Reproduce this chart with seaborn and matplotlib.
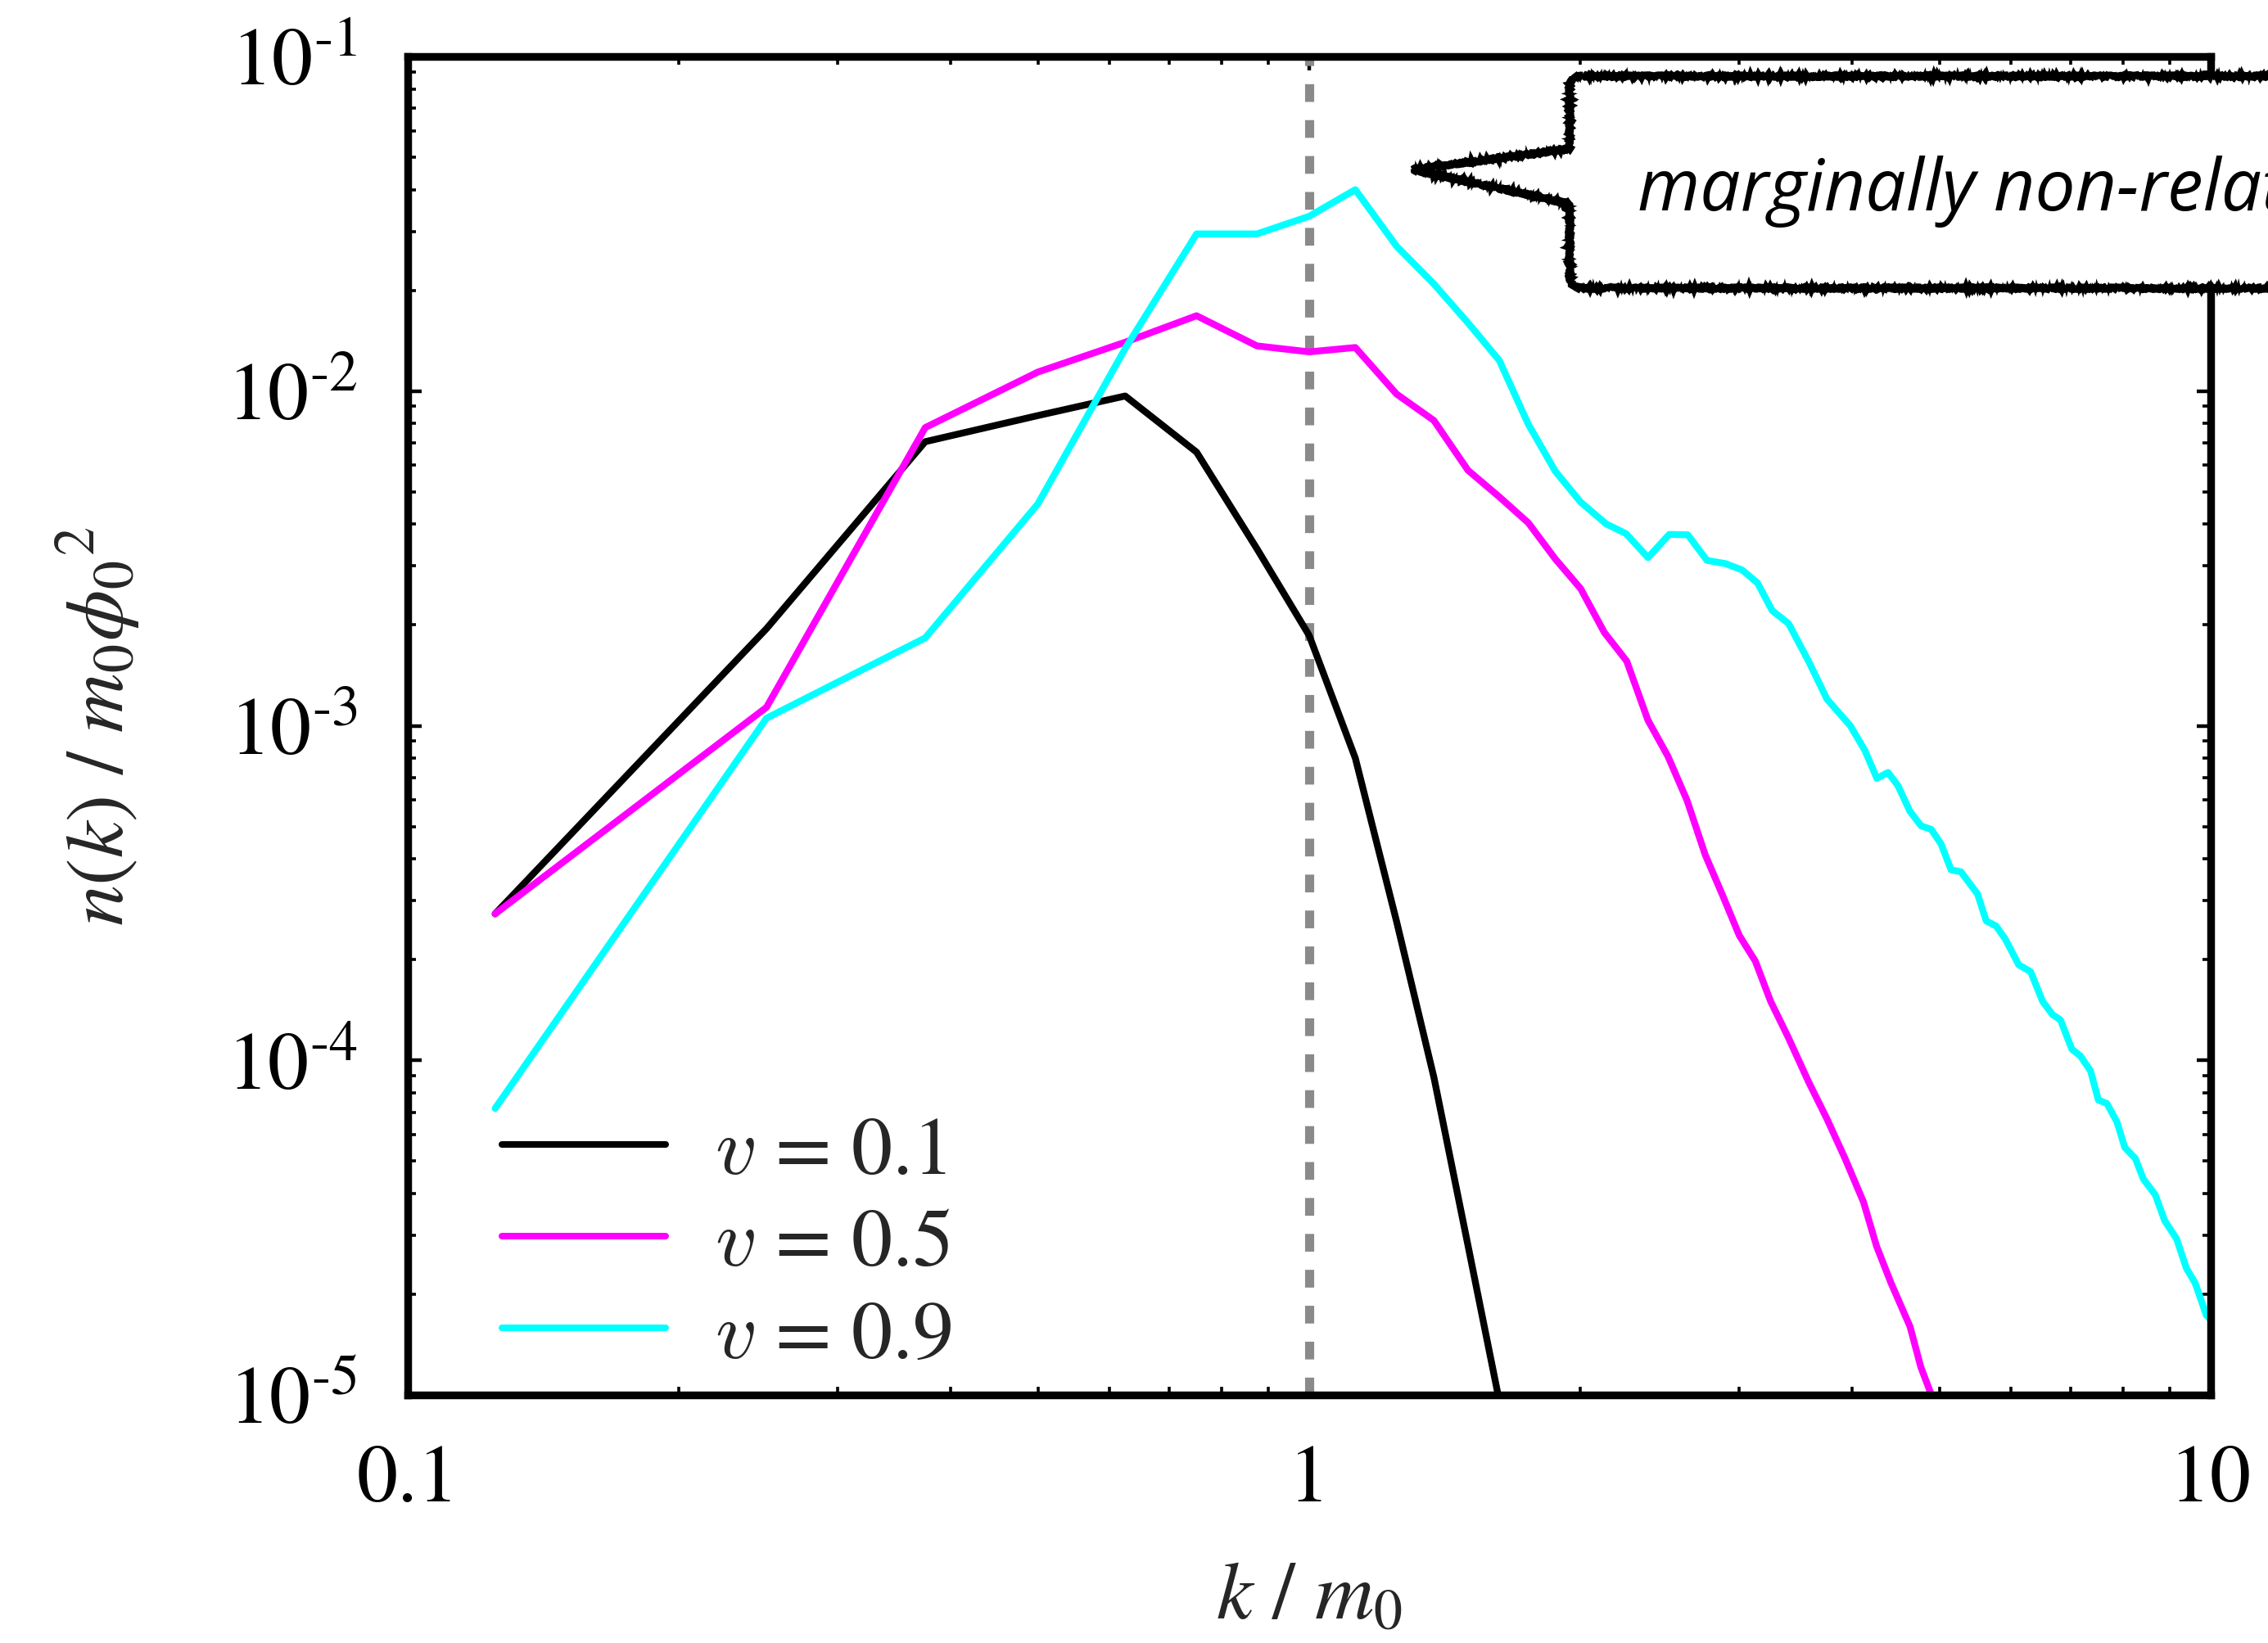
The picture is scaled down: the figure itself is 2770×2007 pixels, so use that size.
import numpy as np
import pandas as pd
import matplotlib
matplotlib.use("Agg")
import matplotlib.pyplot as plt
import seaborn as sns
from matplotlib.path import Path
from matplotlib.patches import PathPatch
from matplotlib.ticker import FixedLocator, LogLocator, NullFormatter, FixedFormatter

# ---- occupation spectra n(k) for three wall velocities ----
k_v01 = [0.125, 0.25, 0.375, 0.5, 0.625, 0.75, 0.875, 1.0, 1.125, 1.25, 1.375, 1.5, 1.625]
n_v01 = [2.74e-4, 1.95e-3, 7.06e-3, 8.45e-3, 9.67e-3, 6.57e-3, 3.38e-3, 1.86e-3, 8.0e-4,
         2.6e-4, 8.9e-5, 2.8e-5, 9.6e-6]

k_v05 = [0.125, 0.25, 0.375, 0.5, 0.625, 0.75, 0.875, 1.0, 1.125, 1.25, 1.375, 1.5, 1.625,
         1.75, 1.875, 2.0, 2.125, 2.25, 2.375, 2.5, 2.625, 2.75, 2.875, 3.0, 3.125, 3.25,
         3.40, 3.58, 3.75, 3.93, 4.12, 4.26, 4.42, 4.64, 4.77, 4.90, 5.02]
n_v05 = [2.74e-4, 1.135e-3, 7.78e-3, 1.14e-2, 1.40e-2, 1.68e-2, 1.365e-2, 1.31e-2, 1.35e-2,
         9.8e-3, 8.17e-3, 5.8e-3, 4.83e-3, 4.04e-3, 3.15e-3, 2.57e-3, 1.90e-3, 1.56e-3,
         1.04e-3, 8.1e-4, 5.98e-4, 4.11e-4, 3.11e-4, 2.36e-4, 1.98e-4, 1.50e-4, 1.17e-4,
         8.63e-5, 6.71e-5, 5.09e-5, 3.77e-5, 2.78e-5, 2.16e-5, 1.60e-5, 1.21e-5, 1.0e-5, 8.5e-6]

k_v09 = [0.125, 0.25, 0.375, 0.5, 0.625, 0.75, 0.875, 1.0, 1.125, 1.25, 1.375, 1.5, 1.625,
         1.75, 1.875, 2.0, 2.135, 2.246, 2.376, 2.508, 2.630, 2.762, 2.897, 3.022, 3.143,
         3.262, 3.402, 3.580, 3.753, 3.983, 4.135, 4.263, 4.386, 4.499, 4.638, 4.773, 4.898,
         5.023, 5.152, 5.284, 5.513, 5.636, 5.781, 5.920, 6.124, 6.314, 6.510, 6.677, 6.814,
         7.014, 7.170, 7.356, 7.506, 7.672, 7.870, 8.030, 8.250, 8.420, 8.682, 8.890, 9.165,
         9.399, 9.611, 9.890, 10.0]
n_v09 = [7.18e-5, 1.053e-3, 1.83e-3, 4.6e-3, 1.34e-2, 2.95e-2, 2.95e-2, 3.33e-2, 4.0e-2,
         2.71e-2, 2.09e-2, 1.6e-2, 1.235e-2, 7.96e-3, 5.76e-3, 4.66e-3, 4.01e-3, 3.75e-3,
         3.18e-3, 3.73e-3, 3.72e-3, 3.12e-3, 3.05e-3, 2.92e-3, 2.67e-3, 2.21e-3, 2.02e-3,
         1.56e-3, 1.20e-3, 1.0e-3, 8.43e-4, 6.96e-4, 7.25e-4, 6.62e-4, 5.55e-4, 5.02e-4,
         4.90e-4, 4.43e-4, 3.71e-4, 3.66e-4, 3.14e-4, 2.61e-4, 2.52e-4, 2.30e-4, 1.93e-4,
         1.84e-4, 1.50e-4, 1.37e-4, 1.32e-4, 1.08e-4, 1.03e-4, 9.31e-5, 7.61e-5, 7.43e-5,
         6.55e-5, 5.49e-5, 5.09e-5, 4.42e-5, 3.96e-5, 3.32e-5, 2.93e-5, 2.39e-5, 2.16e-5,
         1.73e-5, 1.68e-5]

series_labels = [r"$v$ = 0.1", r"$v$ = 0.5", r"$v$ = 0.9"]
series_colors = ["#000000", "#ff00ff", "#00ffff"]

x_ticks = [0.1, 1, 10]
x_ticklabels = ["0.1", "1", "10"]
y_ticks = [1e-5, 1e-4, 1e-3, 1e-2, 1e-1]
y_ticklabels = [r"$10^{\text{-}5}$", r"$10^{\text{-}4}$", r"$10^{\text{-}3}$",
                r"$10^{\text{-}2}$", r"$10^{\text{-}1}$"]

callout_text = "marginally non-relativistic"

frames = []
for lab, kk, nn in zip(series_labels, [k_v01, k_v05, k_v09], [n_v01, n_v05, n_v09]):
    frames.append(pd.DataFrame({"k": kk, "n": nn, "v": lab}))
df = pd.concat(frames, ignore_index=True)

# ---- style ----
sns.set_theme(style="ticks")
plt.rcParams["font.family"] = ["STIXGeneral", "DejaVu Sans"]
plt.rcParams["mathtext.fontset"] = "stix"

W, H, DPI = 2770, 2008, 200
fig = plt.figure(figsize=(W / DPI, H / DPI), dpi=DPI)
fig.patch.set_facecolor("white")
ax = fig.add_axes([498 / W, 1 - 1705 / H, 2202 / W, 1635 / H])
ax.set_facecolor("white")

FS = 36
LW = 3.0

sns.lineplot(data=df, x="k", y="n", hue="v", hue_order=series_labels,
             palette=series_colors, estimator=None, sort=False,
             linewidth=LW, ax=ax)

ax.set_xscale("log")
ax.set_yscale("log")
ax.set_xlim(0.1, 10)
ax.set_ylim(1e-5, 1e-1)

# reference line at k = m0
ax.axvline(1.0, color="#8a8a8a", lw=4.0, ls=(0, (1.95, 2.0)), zorder=1.5)

ax.xaxis.set_major_locator(FixedLocator(x_ticks))
ax.xaxis.set_major_formatter(FixedFormatter(x_ticklabels))
ax.xaxis.set_minor_locator(LogLocator(base=10, subs=np.arange(2, 10)))
ax.xaxis.set_minor_formatter(NullFormatter())
ax.yaxis.set_major_locator(FixedLocator(y_ticks))
ax.yaxis.set_major_formatter(FixedFormatter(y_ticklabels))
ax.yaxis.set_minor_locator(LogLocator(base=10, subs=np.arange(2, 10)))
ax.yaxis.set_minor_formatter(NullFormatter())

ax.tick_params(which="both", direction="in", top=True, right=True, colors="black",
               labelsize=FS, pad=22)
ax.tick_params(which="major", length=6.2, width=1.6)
ax.tick_params(which="minor", length=3.5, width=1.3)
for s in ax.spines.values():
    s.set_linewidth(3.4)
    s.set_color("black")
    s.set_visible(True)

ax.set_xlabel(r"$k\ /\ m_0$", fontsize=FS)
ax.set_ylabel(r"$n(k)\ /\ m_0\phi_0{}^{2}$", fontsize=FS)
ax.xaxis.set_label_coords(0.5, -0.125)
ax.yaxis.set_label_coords(-0.147, 0.5)

handles, labels = ax.get_legend_handles_labels()
leg = ax.legend(handles, labels, loc="lower left", bbox_to_anchor=(0.052, 0.015),
                frameon=False, fontsize=FS, handlelength=2.0, handletextpad=0.6,
                labelspacing=0.2, borderaxespad=0, borderpad=0)
for h in leg.get_lines():
    h.set_linewidth(2.9)
for t in leg.get_texts():
    t.set_math_fontfamily("cm")

# ---- speech-bubble callout (pixel layout converted to figure fraction) ----
def fx(x):
    return x / W

def fy(y):
    return 1 - y / H

L, T, B, R = 1917, 94, 353, 2830
r = 16
tip = (1725, 208)
up, lo = 183, 250
pts = [
    (L + r, T), (R, T), (R, B), (L + r, B),
    (L, B), (L, B - r),
    (L, lo), tip, (L, up),
    (L, T + r), (L, T), (L + r, T),
]
codes = [Path.MOVETO, Path.LINETO, Path.LINETO, Path.LINETO,
         Path.CURVE3, Path.CURVE3,
         Path.LINETO, Path.LINETO, Path.LINETO,
         Path.LINETO, Path.CURVE3, Path.CURVE3]
verts = [(fx(x), fy(y)) for x, y in pts]
bubble = PathPatch(Path(verts, codes), facecolor="white", edgecolor="black",
                   lw=3.0, transform=fig.transFigure, zorder=10, clip_on=False)
bubble.set_sketch_params(scale=1.5, length=4, randomness=12)
fig.add_artist(bubble)
for sc, ln, rnd, w in [(2.6, 3, 25, 1.6), (3.2, 2, 35, 1.0)]:
    rough = PathPatch(Path(verts, codes), facecolor="none", edgecolor="black",
                      lw=w, transform=fig.transFigure, zorder=10.5, clip_on=False)
    rough.set_sketch_params(scale=sc, length=ln, randomness=rnd)
    fig.add_artist(rough)

fig.text(fx(2000), fy(257), callout_text, fontsize=31.5, style="italic",
         family=["Open Sans", "DejaVu Sans"], ha="left", va="baseline",
         color="black", zorder=11)

fig.savefig("out.png", dpi=DPI, facecolor="white")
